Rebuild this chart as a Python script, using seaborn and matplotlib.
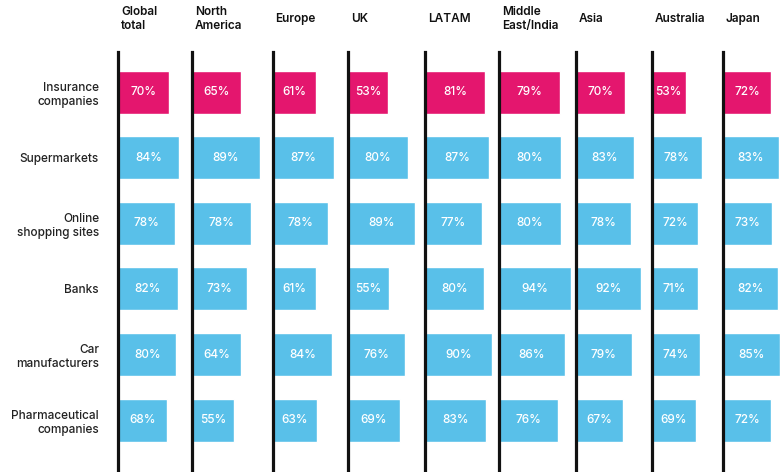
import seaborn as sns
import matplotlib.pyplot as plt
import pandas as pd

# data
regions = ["Global\ntotal", "North\nAmerica", "Europe", "UK", "LATAM",
           "Middle\nEast/India", "Asia", "Australia", "Japan"]
categories = ["Insurance\ncompanies", "Supermarkets", "Online\nshopping sites",
              "Banks", "Car\nmanufacturers", "Pharmaceutical\ncompanies"]

global_total = [70, 84, 78, 82, 80, 68]
north_america = [65, 89, 78, 73, 64, 55]
europe = [61, 87, 78, 61, 84, 63]
uk = [53, 80, 89, 55, 76, 69]
latam = [81, 87, 77, 80, 90, 83]
middle_east_india = [79, 80, 80, 94, 86, 76]
asia = [70, 83, 78, 92, 79, 67]
australia = [53, 78, 72, 71, 74, 69]
japan = [72, 83, 73, 82, 85, 72]

values = [global_total, north_america, europe, uk, latam,
          middle_east_india, asia, australia, japan]

pink = "#E4166E"
blue = "#59C0E9"
palette = [pink] + [blue] * 5

# layout (pixels in a 780x472 figure)
W, H = 780, 472
line_x = [118.5, 192, 272.5, 348, 425, 499, 575.5, 651.5, 722.5]
px_per_100 = [72, 76, 71, 75, 74, 77, 71, 65, 68]
top_px, bottom_px = 52, 470

sns.set_style("white")
plt.rcParams["font.family"] = ["Inter", "DejaVu Sans"]

fig = plt.figure(figsize=(W / 100, H / 100), dpi=100)

for i, (region, vals) in enumerate(zip(regions, values)):
    df = pd.DataFrame({"category": categories, "value": vals})
    ax = fig.add_axes([line_x[i] / W, 1 - bottom_px / H,
                       px_per_100[i] / W, (bottom_px - top_px) / H])
    ax.patch.set_alpha(0)
    sns.barplot(data=df, x="value", y="category", hue="category",
                palette=palette, orient="h", width=0.655, legend=False,
                saturation=1, ax=ax)
    ax.set_xlim(0, 100)
    ax.set_ylim(5.76, -0.61)
    ax.set_xlabel("")
    ax.set_ylabel("")
    ax.set_xticks([])
    for s in ["top", "right", "bottom"]:
        ax.spines[s].set_visible(False)
    ax.spines["left"].set_linewidth(2.3)
    ax.spines["left"].set_color("#111111")
    ax.tick_params(axis="y", length=0, pad=14)
    if i == 0:
        for lbl in ax.get_yticklabels():
            lbl.set_fontsize(8.5)
            lbl.set_fontweight("medium")
            lbl.set_color("#222222")
            lbl.set_linespacing(1.25)
    else:
        ax.set_yticklabels([])
    for c in ax.containers:
        ax.bar_label(c, fmt="{:.0f}%", label_type="center", color="white",
                     fontsize=8.5, fontweight="medium")
    ax.annotate(region, xy=(0, 1), xycoords="axes fraction",
                xytext=(2, 24), textcoords="offset points",
                ha="left", va="center", fontsize=8.5, fontweight="semibold",
                color="#111111", linespacing=1.25, annotation_clip=False)

fig.savefig("out.png", dpi=100)
